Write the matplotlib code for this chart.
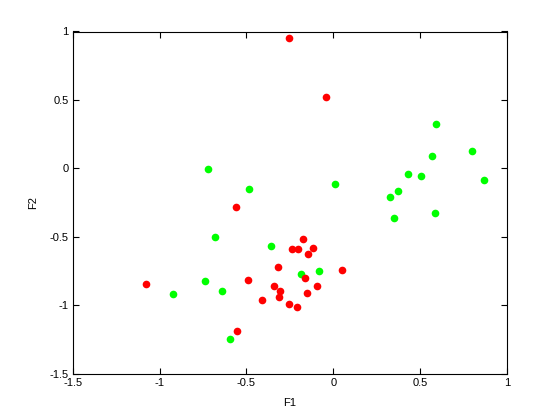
import matplotlib
matplotlib.use("Agg")
import matplotlib.pyplot as plt

# class 1 (green)
green_f1 = [-0.720, -0.485, 0.010, 0.592, 0.571, 0.798, 0.431, 0.507, 0.868, 0.326,
            0.374, 0.351, 0.588, -0.681, -0.358, -0.740, -0.641, -0.924, -0.185,
            -0.082, -0.595]
green_f2 = [-0.002, -0.149, -0.112, 0.327, 0.093, 0.129, -0.039, -0.054, -0.083, -0.207,
            -0.163, -0.361, -0.324, -0.500, -0.566, -0.822, -0.895, -0.917, -0.773,
            -0.749, -1.246]

# class 2 (red)
red_f1 = [-0.255, -0.042, -0.560, -0.174, -0.238, -0.203, -0.116, -0.146, -0.318, 0.051,
          -0.163, -0.491, -1.079, -0.341, -0.094, -0.307, -0.312, -0.151, -0.412, -0.255,
          -0.209, -0.554]
red_f2 = [0.956, 0.524, -0.280, -0.515, -0.588, -0.588, -0.580, -0.624, -0.720, -0.741,
          -0.800, -0.815, -0.844, -0.859, -0.859, -0.895, -0.939, -0.910, -0.961, -0.990,
          -1.012, -1.188]

xticks = [-1.5, -1, -0.5, 0, 0.5, 1]
xticklabels = ["-1.5", "-1", "-0.5", "0", "0.5", "1"]
yticks = [-1.5, -1, -0.5, 0, 0.5, 1]
yticklabels = ["-1.5", "-1", "-0.5", "0", "0.5", "1"]

plt.rcParams['font.family'] = ['Liberation Sans', 'DejaVu Sans']
fig = plt.figure(figsize=(5.6, 4.2), dpi=100)
ax = fig.add_axes([0.13, 0.11, 0.775, 0.815])

ax.plot(green_f1, green_f2, 'o', color=(0, 1, 0), markersize=5.5, markeredgewidth=0)
ax.plot(red_f1, red_f2, 'o', color=(1, 0, 0), markersize=5.5, markeredgewidth=0)

ax.set_xlim(-1.5, 1)
ax.set_ylim(-1.5, 1)
ax.set_xticks(xticks)
ax.set_xticklabels(xticklabels)
ax.set_yticks(yticks)
ax.set_yticklabels(yticklabels)
ax.tick_params(direction='in', length=4, width=0.8, top=True, right=True, labelsize=8, pad=3)
for s in ax.spines.values():
    s.set_linewidth(0.8)

ax.set_xlabel("F1", fontsize=8, labelpad=7)
ax.set_ylabel("F2", fontsize=8, labelpad=8)

fig.savefig("out.png", dpi=100)
